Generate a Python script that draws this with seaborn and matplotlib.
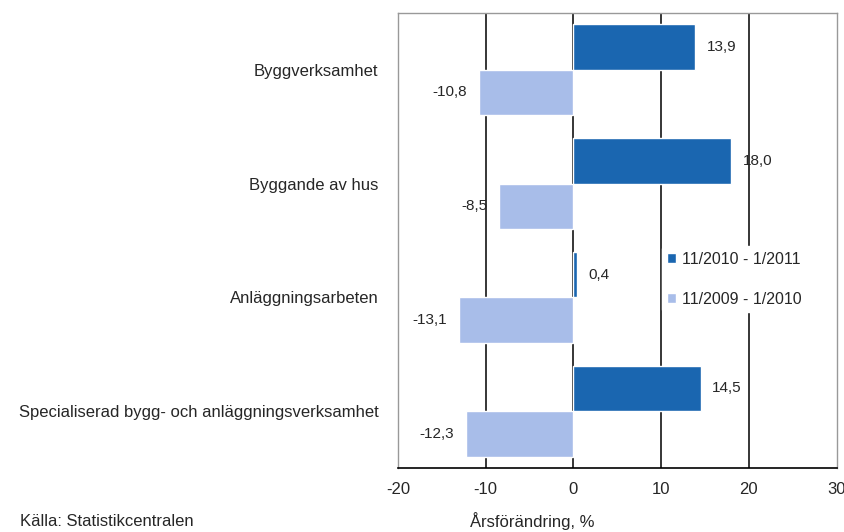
import pandas as pd
import numpy as np
import matplotlib.pyplot as plt
import seaborn as sns

# data
categories = ['Byggverksamhet', 'Byggande av hus', 'Anläggningsarbeten',
              'Specialiserad bygg- och anläggningsverksamhet']
periods = ['11/2010 - 1/2011', '11/2009 - 1/2010']
values_2011 = [13.9, 18.0, 0.4, 14.5]
values_2010 = [-10.8, -8.5, -13.1, -12.3]

df = pd.DataFrame({
    'Kategori': categories * 2,
    'Period': [periods[0]] * 4 + [periods[1]] * 4,
    'Varde': values_2011 + values_2010,
})

sns.set_style('white')
plt.rcParams['font.family'] = ['Liberation Sans', 'DejaVu Sans']

fig = plt.figure(figsize=(8.45, 5.32), dpi=100)
ax = fig.add_axes([0.471, 0.120, 0.519, 0.856])

sns.barplot(data=df, y='Kategori', x='Varde', hue='Period', hue_order=periods,
            order=categories, orient='h', palette=['#1a66b0', '#a8bde9'],
            width=0.8, saturation=1, ax=ax, zorder=3)

ax.set_xlim(-20, 30)
ax.set_ylim(3.5, -0.5)
ax.set_xticks([-20, -10, 0, 10, 20, 30])
ax.set_xticklabels(['-20', '-10', '0', '10', '20', '30'], fontsize=12)
ax.set_ylabel('')
ax.set_xlabel('')
ax.tick_params(axis='y', length=0, pad=14, labelsize=12)
ax.tick_params(axis='x', direction='out', length=6, width=1.2, color='black', pad=4)
for x in [-10, 0, 10, 20]:
    ax.axvline(x, color='black', lw=1.1, zorder=1)
for side in ['top', 'left', 'right']:
    ax.spines[side].set_color('#999999')
    ax.spines[side].set_linewidth(1)
ax.spines['bottom'].set_color('black')
ax.spines['bottom'].set_linewidth(1.2)

# value labels
for cont in ax.containers:
    for bar in cont:
        v = bar.get_width()
        y = bar.get_y() + bar.get_height() / 2
        txt = f'{v:.1f}'.replace('.', ',')
        if v >= 0:
            ax.text(v + 1.3, y, txt, va='center', ha='left', fontsize=11, zorder=5)
        else:
            ax.text(v - 1.3, y, txt, va='center', ha='right', fontsize=11, zorder=5)

leg = ax.legend(loc='upper left', bbox_to_anchor=(0.583, 0.505), frameon=True,
                fontsize=11.5, handlelength=0.55, handleheight=0.55, handletextpad=0.35,
                labelspacing=1.55, borderpad=0.35)
leg.get_frame().set_edgecolor('white')
leg.get_frame().set_facecolor('white')
leg.get_frame().set_alpha(1)
leg.set_zorder(6)

fig.text(0.024, 0.006, 'Källa: Statistikcentralen', fontsize=12, va='bottom')
fig.text(0.63, 0.004, 'Årsförändring, %', fontsize=12, va='bottom', ha='center')

fig.savefig('out.png', dpi=100)
